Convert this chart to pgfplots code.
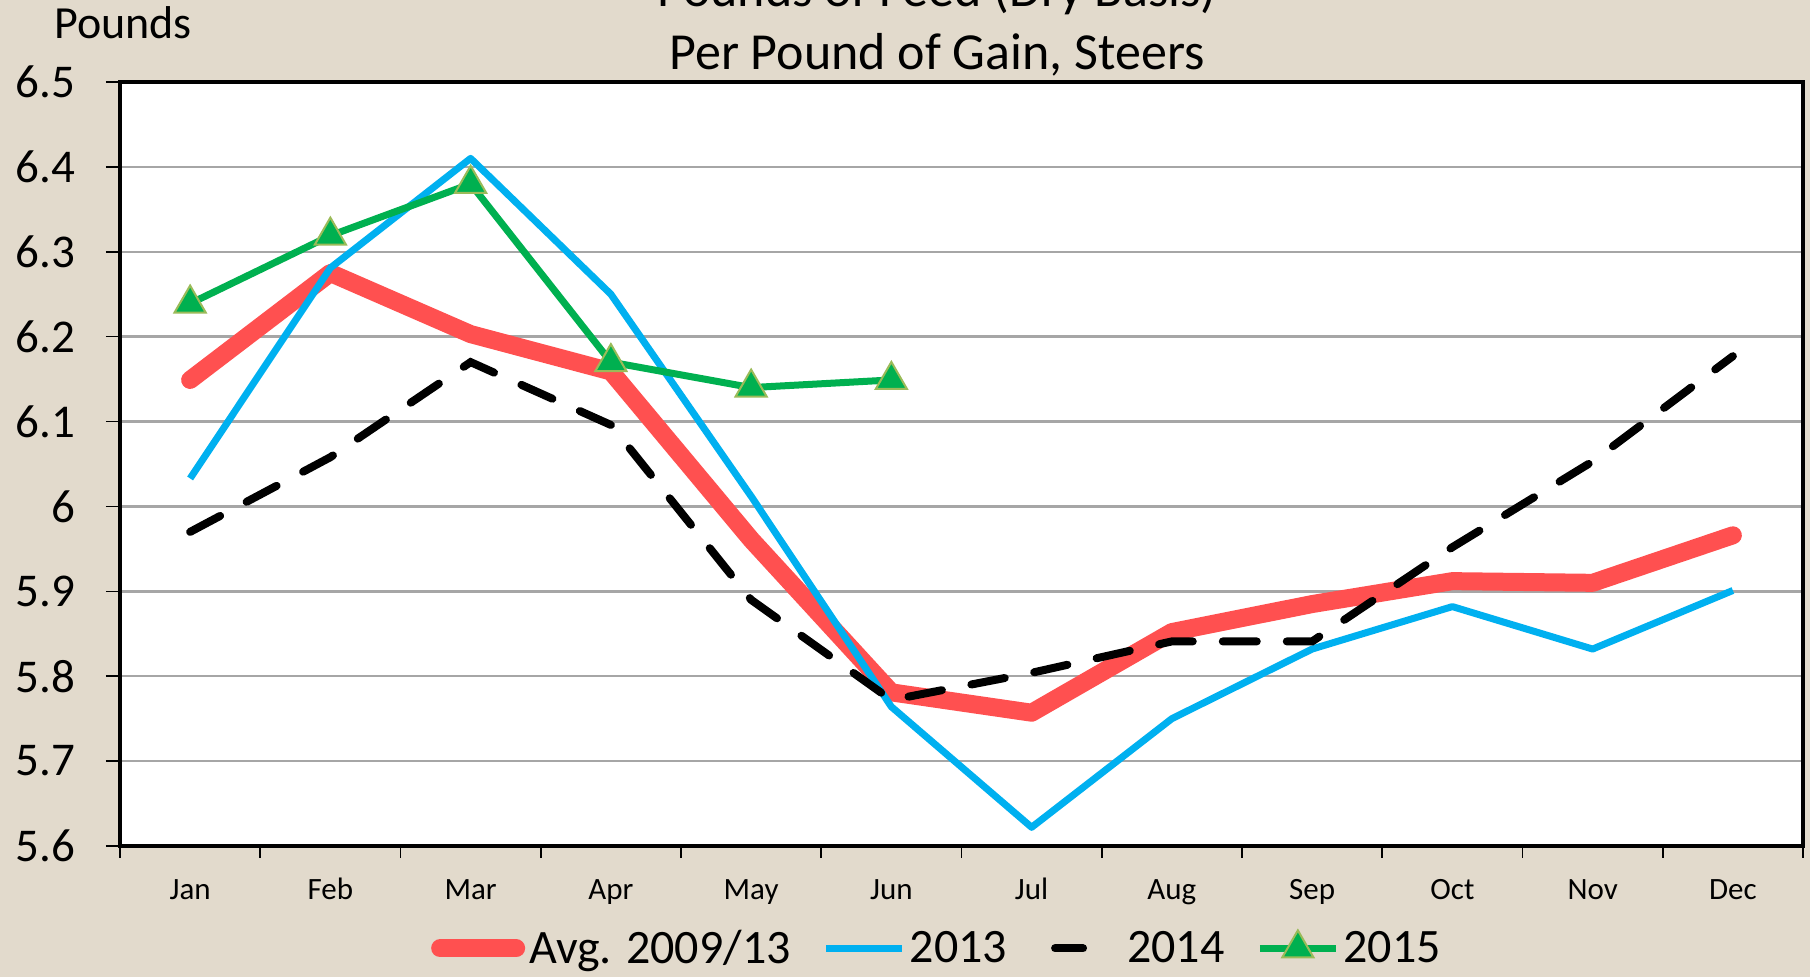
\documentclass[border=0pt]{standalone}
\usepackage{fontspec}
\setmainfont{Carlito}
\usepackage{pgfplots}
\pgfplotsset{compat=1.18}
\definecolor{bg}{RGB}{226,218,204}
\definecolor{avgred}{RGB}{255,80,80}
\definecolor{blue13}{RGB}{0,176,240}
\definecolor{green15}{RGB}{0,176,80}
\definecolor{tri}{RGB}{155,187,89}
\begin{document}
\begin{tikzpicture}
\useasboundingbox (0,0) rectangle (905pt,488.5pt);
\fill[bg] (0,0) rectangle (905pt,488.5pt);
\node[anchor=base, inner sep=0pt, font=\fontsize{26}{31}\selectfont] at (468.5pt,485pt) {Pounds of Feed (Dry Basis)};
\node[anchor=base, inner sep=0pt, font=\fontsize{26}{31}\selectfont] at (468.5pt,453.5pt) {Per Pound of Gain, Steers};
\node[anchor=base west, inner sep=0pt, font=\fontsize{23}{28}\selectfont] at (27pt,469pt) {Pounds};
\begin{axis}[
  at={(60pt,65.5pt)}, anchor=south west,
  width=841.5pt, height=382pt, scale only axis,
  xmin=-0.5, xmax=11.5, ymin=5.6, ymax=6.5,
  axis background/.style={fill=white},
  axis line style={black, line width=2pt},
  xtick={0,...,11},
  xticklabels={Jan,Feb,Mar,Apr,May,Jun,Jul,Aug,Sep,Oct,Nov,Dec},
  minor xtick={-0.5,0.5,...,11.5},
  major x tick style={draw=none},
  minor x tick style={black, line width=0.8pt},
  minor tick length=6pt,
  ytick={5.6,5.7,5.8,5.9,6.0,6.1,6.2,6.3,6.4,6.5},
  yticklabels={5.6,5.7,5.8,5.9,6,6.1,6.2,6.3,6.4,6.5},
  y tick style={black, line width=0.8pt},
  major tick length=7pt,
  tick align=outside,
  xtick pos=bottom, ytick pos=left,
  ymajorgrids, grid style={gray!70, line width=1.2pt},
  xticklabel style={font=\fontsize{15.5}{18}\selectfont, anchor=base, yshift=-20pt},
  yticklabel style={font=\fontsize{23.5}{28}\selectfont, xshift=-12pt},
  legend columns=4,
  legend style={at={(axis description cs:0.486,-0.134)}, anchor=center, draw=none, fill=none,
    font=\fontsize{24}{28}\selectfont, /tikz/every even column/.append style={column sep=14pt}},
  legend image code/.code={\draw[mark repeat=2,mark phase=2,#1] plot coordinates {(0pt,0pt) (19pt,0pt) (38pt,0pt)};},
]
\addplot[avgred, line width=9pt, line cap=round, line join=round] coordinates {
(0,6.149) (1,6.275) (2,6.203) (3,6.159) (4,5.961) (5,5.781) (6,5.757) (7,5.852) (8,5.885) (9,5.912) (10,5.910) (11,5.966)};
\addlegendentry{Avg. 2009/13}
\addplot[blue13, line width=3.5pt, line join=round] coordinates {
(0,6.033) (1,6.281) (2,6.410) (3,6.250) (4,6.012) (5,5.764) (6,5.622) (7,5.750) (8,5.832) (9,5.882) (10,5.832) (11,5.901)};
\addlegendentry{2013}
\addplot[black, line width=4pt, line cap=round, dash pattern=on 17pt off 15pt,
  legend image post style={dash pattern=on 14pt off 24pt, dash phase=32pt}] coordinates {
(0,5.970) (1,6.058) (2,6.170) (3,6.096) (4,5.890) (5,5.772) (6,5.804) (7,5.841) (8,5.841) (9,5.952) (10,6.053) (11,6.177)};
\addlegendentry{2014}
\addplot[green15, line width=3.5pt, mark=triangle*, mark size=9pt,
  mark options={solid, fill=green15, draw=tri, line width=1pt}] coordinates {
(0,6.239) (1,6.319) (2,6.380) (3,6.170) (4,6.140) (5,6.149)};
\addlegendentry{2015}
\end{axis}
\end{tikzpicture}
\end{document}
